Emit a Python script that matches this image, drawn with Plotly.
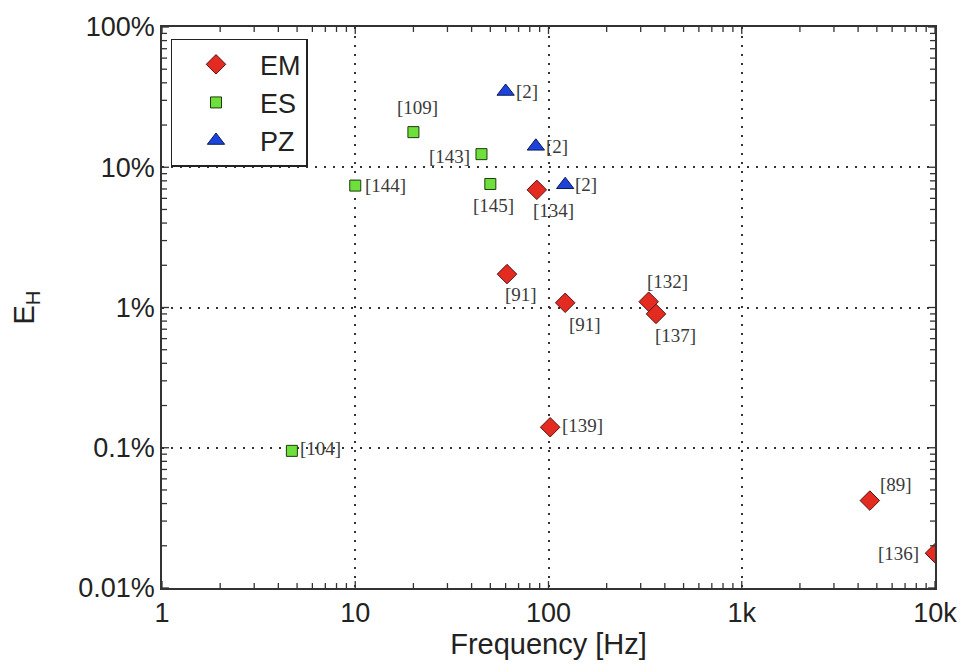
import math
import plotly.graph_objects as go

# Data (frequency in Hz, E_H in %)
em_freq = [87, 61, 122, 330, 360, 102, 4600, 10000]
em_eh = [6.9, 1.73, 1.08, 1.1, 0.9, 0.14, 0.042, 0.0177]
em_refs = ["[134]", "[91]", "[91]", "[132]", "[137]", "[139]", "[89]", "[136]"]

es_freq = [10, 20, 45, 50, 4.7]
es_eh = [7.4, 17.8, 12.4, 7.6, 0.095]
es_refs = ["[144]", "[109]", "[143]", "[145]", "[104]"]

pz_freq = [60, 86, 122]
pz_eh = [34.7, 14.1, 7.5]
pz_refs = ["[2]", "[2]", "[2]"]

x_tickvals = [1, 10, 100, 1000, 10000]
x_ticktext = ["1", "10", "100", "1k", "10k"]
y_tickvals = [0.01, 0.1, 1, 10, 100]
y_ticktext = ["0.01%", "0.1%", "1%", "10%", "100%"]

# label placement (style): (xanchor, yanchor, xshift, yshift)
em_pos = [("center", "top", 17, -8), ("center", "top", 14, -8), ("center", "top", 20, -9),
          ("center", "bottom", 19, 8), ("center", "top", 19, -9), ("left", "middle", 10, 2),
          ("left", "bottom", 8, 4), ("right", "middle", -14, 0)]
es_pos = [("left", "middle", 8, 0), ("center", "bottom", 4, 12), ("right", "middle", -9, -2),
          ("center", "top", 3, -9), ("left", "middle", 6, 2)]
pz_pos = [("left", "middle", 8, 0), ("left", "middle", 8, 0), ("left", "middle", 8, 0)]

fig = go.Figure()
fig.add_trace(go.Scatter(x=em_freq, y=em_eh, mode="markers", name="EM",
                         marker=dict(symbol="diamond", size=15, color="#e32b22",
                                     line=dict(color="#5a1010", width=1))))
fig.add_trace(go.Scatter(x=es_freq, y=es_eh, mode="markers", name="ES",
                         marker=dict(symbol="square", size=11, color="#6ee03c",
                                     line=dict(color="#1f3a10", width=1))))
fig.add_trace(go.Scatter(x=pz_freq, y=pz_eh, mode="markers", name="PZ",
                         marker=dict(symbol="triangle-up", size=15, color="#1c44dd",
                                     line=dict(color="#0a1a50", width=1))))

for xs, ys, refs, pos in [(em_freq, em_eh, em_refs, em_pos),
                          (es_freq, es_eh, es_refs, es_pos),
                          (pz_freq, pz_eh, pz_refs, pz_pos)]:
    for x, y, r, (xa, ya, dx, dy) in zip(xs, ys, refs, pos):
        fig.add_annotation(x=math.log10(x), y=math.log10(y),
                           text=r, showarrow=False, xanchor=xa, yanchor=ya,
                           xshift=dx, yshift=dy,
                           font=dict(family="Liberation Serif", size=19, color="#3a3a3a"))

minor_x = [m * 10 ** d for d in range(0, 4) for m in range(2, 10)]
minor_y = [m * 10 ** d for d in range(-2, 2) for m in range(2, 10)]

# tick marks drawn on the frame (inside, all four sides), placed by the axis scales
PLOT_W, PLOT_H = 773, 565
tick_line = dict(color="#333333", width=1.3)
for vals, length in [(minor_x, 5), (x_tickvals, 7)]:
    for v in vals:
        for y0, y1 in [(0, length / PLOT_H), (1 - length / PLOT_H, 1)]:
            fig.add_shape(type="line", xref="x", yref="y domain", x0=v, x1=v,
                          y0=y0, y1=y1, line=tick_line, layer="above")
for vals, length in [(minor_y, 5), (y_tickvals, 7)]:
    for v in vals:
        for x0, x1 in [(0, length / PLOT_W), (1 - length / PLOT_W, 1)]:
            fig.add_shape(type="line", yref="y", xref="x domain", y0=v, y1=v,
                          x0=x0, x1=x1, line=tick_line, layer="above")

axis_common = dict(showline=True, linecolor="#333333", linewidth=1.5, mirror=True,
                   ticks="", showgrid=True, gridcolor="#333333", griddash="2px,7px",
                   gridwidth=1.5, zeroline=False,
                   tickfont=dict(family="Liberation Sans", size=27, color="#222222"))

fig.update_layout(
    width=969, height=664,
    margin=dict(l=162, r=34, t=23, b=76),
    plot_bgcolor="white", paper_bgcolor="white",
    xaxis=dict(type="log", range=[0, 4], tickmode="array", tickvals=x_tickvals,
               ticktext=x_ticktext,
               title=dict(text="Frequency [Hz]", standoff=2,
                          font=dict(family="Liberation Sans", size=29, color="#222222")),
               **axis_common),
    yaxis=dict(type="log", range=[-2, 2], tickmode="array", tickvals=y_tickvals,
               ticktext=y_ticktext,
               title=dict(text="E<sub>H</sub>", standoff=35,
                          font=dict(family="Liberation Sans", size=29, color="#222222")),
               **axis_common),
    legend=dict(x=0.011, y=0.979, xanchor="left", yanchor="top",
                bordercolor="#222222", borderwidth=1.5, bgcolor="white",
                font=dict(family="Liberation Sans", size=27, color="#222222"),
                itemwidth=78, tracegroupgap=0),
    showlegend=True,
)

fig.write_html("out.html")
